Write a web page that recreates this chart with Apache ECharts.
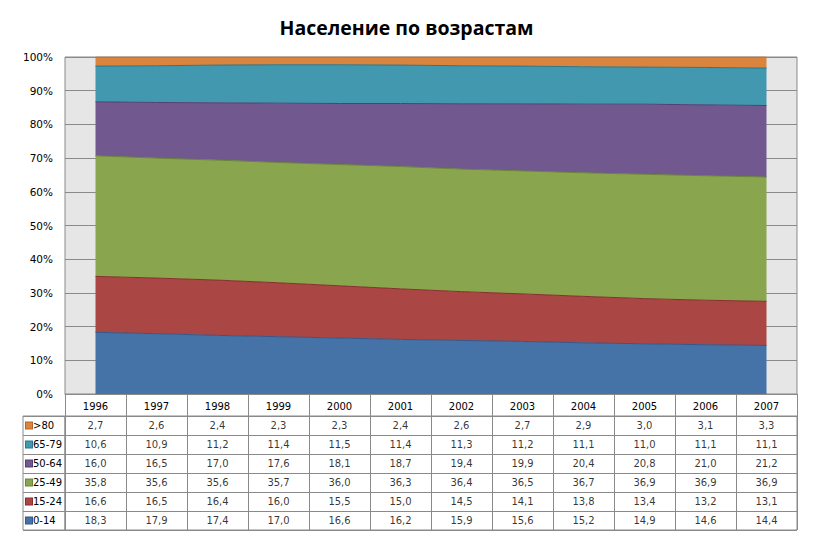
<!DOCTYPE html>
<html>
<head>
<meta charset="utf-8">
<script src="https://cdn.jsdelivr.net/npm/echarts@6/dist/echarts.min.js"></script>
<style>
  html, body { margin: 0; padding: 0; background: #fff; }
  #chart { width: 813px; height: 542px; }
</style>
</head>
<body>
<div id="chart"></div>
<script>
  var years = ['1996', '1997', '1998', '1999', '2000', '2001', '2002', '2003', '2004', '2005', '2006', '2007'];
  var groups = ['0-14', '15-24', '25-49', '50-64', '65-79', '>80'];

  var age0_14  = [18.3, 17.9, 17.4, 17.0, 16.6, 16.2, 15.9, 15.6, 15.2, 14.9, 14.6, 14.4];
  var age15_24 = [16.6, 16.5, 16.4, 16.0, 15.5, 15.0, 14.5, 14.1, 13.8, 13.4, 13.2, 13.1];
  var age25_49 = [35.8, 35.6, 35.6, 35.7, 36.0, 36.3, 36.4, 36.5, 36.7, 36.9, 36.9, 36.9];
  var age50_64 = [16.0, 16.5, 17.0, 17.6, 18.1, 18.7, 19.4, 19.9, 20.4, 20.8, 21.0, 21.2];
  var age65_79 = [10.6, 10.9, 11.2, 11.4, 11.5, 11.4, 11.3, 11.2, 11.1, 11.0, 11.1, 11.1];
  var age80    = [2.7, 2.6, 2.4, 2.3, 2.3, 2.4, 2.6, 2.7, 2.9, 3.0, 3.1, 3.3];

  var values = [age0_14, age15_24, age25_49, age50_64, age65_79, age80];
  var fills = ['#4572A7', '#AA4643', '#89A54E', '#71588F', '#4198AF', '#DB843D'];
  var edges = ['#34578a', '#85302e', '#6a8539', '#54406f', '#2d7689', '#b3652a'];

  // table rows top to bottom
  var tableRows = groups.slice().reverse();

  var totals = years.map(function(y, i) {
    return values.reduce(function(s, v) { return s + v[i]; }, 0);
  });

  var lineColor = '#8a8a8a';
  var font = 'DejaVu Sans, Verdana, sans-serif';

  var areaSeries = groups.map(function(g, k) {
    return {
      name: g,
      type: 'line',
      stack: 'all',
      xAxisIndex: 0,
      yAxisIndex: 0,
      symbol: 'none',
      data: values[k].map(function(v, i) { return v / totals[i] * 100; }),
      lineStyle: { color: edges[k], width: 1 },
      areaStyle: { color: fills[k], opacity: 1 },
      z: 3
    };
  });

  var cells = [];
  tableRows.forEach(function(g) {
    var k = groups.indexOf(g);
    values[k].forEach(function(v, i) {
      cells.push([years[i], g, v.toFixed(1).replace('.', ',')]);
    });
  });

  var rich = {};
  tableRows.forEach(function(g) {
    var k = groups.indexOf(g);
    rich['s' + k] = {
      width: 6, height: 6, backgroundColor: fills[k],
      borderColor: edges[k], borderWidth: 1
    };
  });
  rich.t = { fontSize: 10, fontFamily: font, color: '#000', padding: [0, 0, 0, 1] };

  var chart = echarts.init(document.getElementById('chart'), null, { renderer: 'svg' });
  chart.setOption({
    animation: false,
    title: {
      text: 'Население по возрастам',
      left: 'center',
      top: 12,
      textStyle: { fontFamily: 'Open Sans, Noto Sans, sans-serif', fontWeight: 'bold', fontSize: 19.5, color: '#000' }
    },
    grid: [
      { left: 65, top: 57, width: 732, height: 337, show: true, backgroundColor: '#e6e6e6', borderColor: lineColor, borderWidth: 1 },
      { left: 65, top: 416, width: 732, height: 114, show: true, borderColor: lineColor, borderWidth: 1 },
      { left: 23, top: 416, width: 42, height: 114, show: true, borderColor: lineColor, borderWidth: 1 }
    ],
    xAxis: [
      {
        gridIndex: 0,
        type: 'category',
        data: years,
        boundaryGap: true,
        axisLine: { show: true, lineStyle: { color: lineColor } },
        axisTick: { show: true, length: 22, interval: 0, lineStyle: { color: lineColor } },
        axisLabel: { margin: 7, fontSize: 10, fontWeight: 'normal', fontFamily: font, color: '#000', interval: 0 },
        splitLine: { show: false }
      },
      {
        gridIndex: 1,
        type: 'category',
        data: years,
        axisLine: { show: false },
        axisTick: { show: false },
        axisLabel: { show: false },
        splitLine: { show: true, interval: 0, lineStyle: { color: lineColor } }
      },
      {
        gridIndex: 2,
        type: 'category',
        data: [''],
        axisLine: { show: false },
        axisTick: { show: false },
        axisLabel: { show: false }
      }
    ],
    yAxis: [
      {
        gridIndex: 0,
        type: 'value',
        min: 0,
        max: 100,
        interval: 10,
        axisLine: { show: false },
        axisTick: { show: false },
        axisLabel: { formatter: '{value}%', fontSize: 10.5, fontFamily: font, color: '#000', margin: 12 },
        splitLine: { show: true, lineStyle: { color: lineColor } }
      },
      {
        gridIndex: 1,
        type: 'category',
        data: tableRows,
        inverse: true,
        axisLine: { show: false },
        axisTick: { show: false },
        axisLabel: { show: false },
        splitLine: { show: true, interval: 0, lineStyle: { color: lineColor } }
      },
      {
        gridIndex: 2,
        type: 'category',
        data: tableRows,
        inverse: true,
        axisLine: { show: false },
        axisTick: { show: false },
        axisLabel: {
          inside: true,
          margin: 3,
          align: 'left',
          interval: 0,
          formatter: function(g) { return '{s' + groups.indexOf(g) + '|}{t|' + g + '}'; },
          rich: rich
        },
        splitLine: { show: true, interval: 0, lineStyle: { color: lineColor } }
      }
    ],
    series: areaSeries.concat([
      {
        type: 'scatter',
        xAxisIndex: 1,
        yAxisIndex: 1,
        symbolSize: 0,
        data: cells,
        label: {
          show: true,
          position: 'inside',
          formatter: function(p) { return p.value[2]; },
          fontSize: 10,
          fontFamily: font,
          color: '#000'
        }
      }
    ])
  });
</script>
</body>
</html>
